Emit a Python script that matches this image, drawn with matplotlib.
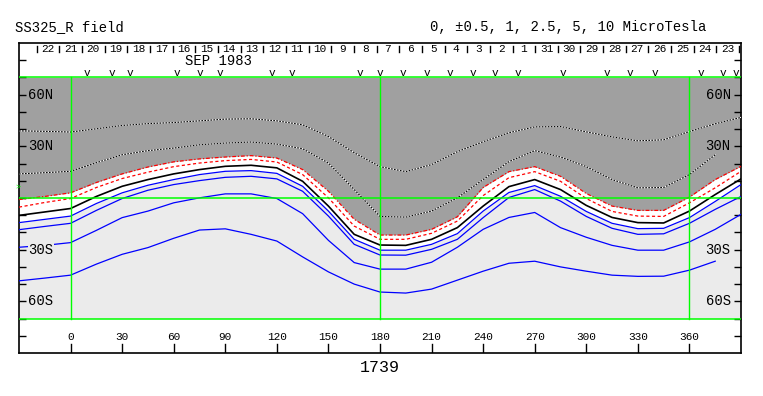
#!/usr/bin/env python

import numpy as np
import matplotlib
matplotlib.use("Agg")
import matplotlib.pyplot as plt

# longitude samples of the contour lines (deg)
lons = [-30, -15, 0, 15, 30, 45, 60, 75, 90, 105, 120, 135, 150, 165, 180,
        195, 210, 225, 240, 255, 270, 285, 300, 315, 330, 345, 360, 375, 390]

# latitude of each contour line (deg)
pos_hi = [39.0, 38.7, 38.3, 40.2, 42.1, 43.2, 43.8, 44.8, 45.8, 46.0, 44.8, 42.5, 35.7, 26.3, 18.2,
          15.3, 19.4, 26.9, 32.7, 37.9, 41.3, 41.5, 38.4, 35.5, 33.2, 33.8, 38.6, 43.1, 46.8]
pos_mid = [14.0, 14.7, 15.5, 20.5, 25.1, 27.5, 29.0, 30.9, 31.9, 32.5, 31.3, 28.6, 20.3, 4.9, -10.7,
           -11.1, -7.6, 0.1, 10.7, 21.1, 27.5, 23.8, 18.2, 10.7, 5.9, 6.1, 13.6, 25.1, np.nan]
pos_one = [-0.9, 0.9, 3.0, 9.0, 14.0, 18.0, 21.0, 22.7, 23.8, 24.6, 23.2, 16.5, 3.9, -12.4, -21.5,
           -21.5, -18.2, -10.9, 6.1, 15.3, 18.2, 12.6, 2.6, -4.7, -7.2, -7.2, 0.5, 10.7, 18.4]
pos_half = [-5.3, -2.6, -0.3, 6.1, 11.3, 15.0, 18.2, 20.3, 21.7, 22.4, 20.9, 13.6, 0.1, -16.3, -24.0,
            -24.0, -20.5, -13.4, 1.4, 11.8, 15.3, 9.7, -0.3, -7.8, -10.5, -10.7, -2.8, 5.9, 15.5]
neutral = [-10.1, -8.1, -6.1, 0.9, 6.8, 10.7, 14.0, 16.5, 18.4, 19.0, 17.5, 9.7, -4.7, -21.1, -27.3,
           -27.5, -24.0, -17.2, -4.7, 6.6, 10.7, 4.9, -4.3, -11.3, -14.3, -14.5, -7.6, 2.0, 11.1]
neg_half = [-14.3, -12.4, -10.5, -3.2, 3.0, 7.4, 10.7, 13.6, 15.5, 15.9, 14.3, 6.8, -7.6, -24.0, -30.3,
            -30.3, -26.9, -20.7, -7.6, 3.2, 7.2, 1.0, -7.8, -14.7, -17.8, -17.6, -11.4, -2.0, 7.8]
neg_one = [-18.4, -16.5, -14.7, -7.2, -0.3, 4.5, 7.8, 10.1, 12.0, 12.6, 11.1, 3.9, -10.5, -26.9, -33.1,
           -33.2, -29.8, -24.0, -11.4, 0.3, 4.9, -1.8, -10.7, -17.6, -21.1, -20.8, -14.7, -6.6, 0.9]
neg_mid = [-28.6, -27.5, -25.9, -18.8, -11.4, -7.6, -2.8, 0.1, 2.4, 2.4, -0.3, -9.1, -24.6, -37.5, -41.3,
           -41.3, -37.3, -28.6, -18.2, -11.3, -8.4, -17.2, -22.8, -27.5, -30.3, -30.3, -25.5, -18.2, -9.5]
neg_hi = [-48.1, -46.5, -44.8, -38.4, -32.7, -28.8, -23.4, -18.6, -17.9, -21.1, -25.0, -34.2, -42.9, -50.0, -54.6,
          -55.2, -52.9, -47.7, -42.5, -37.9, -36.7, -40.0, -42.5, -44.8, -45.5, -45.4, -41.9, -36.7, np.nan]

# days along the top (right = earlier)
day_labels = ["22", "21", "20", "19", "18", "17", "16", "15", "14", "13", "12", "11", "10", "9", "8",
              "7", "6", "5", "4", "3", "2", "1", "31", "30", "29", "28", "27", "26", "25", "24", "23"]
day0_lon = -19.7
day_step = 13.18

# observation marks "v" (longitude)
obs_lons = [9.3, 24.2, 34.4, 61.6, 75.1, 87.1, 117.2, 128.7, 168.4, 180.0, 193.6, 207.1, 220.7,
            234.2, 246.8, 260.3, 286.5, 312.2, 325.2, 339.7, 366.8, 379.4, 387.2]

lon_ticks = [0, 30, 60, 90, 120, 150, 180, 210, 240, 270, 300, 330, 360]
lat_labels = {60: "60N", 30: "30N", -30: "30S", -60: "60S"}

dark = "#a0a0a0"
light = "#ebebeb"
green = "#00ff00"
mono = "Liberation Mono"

fig = plt.figure(figsize=(7.63, 3.96), dpi=100)
ax = fig.add_axes([19/763, 43/396, 722/763, 310/396])
ax.set_xlim(-30, 390)
ax.set_ylim(-90, 90)

lo = np.array(lons)
ax.fill_between(lo, -70, 70, color=light, lw=0, zorder=0)
ax.fill_between(lo, np.array(pos_one), 70, color=dark, lw=0, zorder=1)
ax.fill_between(lo, np.array(neg_half), np.array(pos_one), color="white", lw=0, zorder=1)

# positive field lines (dotted black/white)
for d in [pos_hi, pos_mid]:
    ax.plot(lo, d, color="white", lw=0.8, zorder=3)
    ax.plot(lo, d, color="black", lw=0.8, ls=(0, (1.5, 1.2)), zorder=3)
ax.plot(lo, pos_one, color="red", lw=0.9, ls=(0, (3, 1.5, 1, 1.5)), zorder=3)
ax.plot(lo, pos_half, color="red", lw=0.9, ls=(0, (2.5, 2)), zorder=3)
ax.plot(lo, neutral, color="black", lw=1.2, zorder=4)
for d in [neg_half, neg_one, neg_mid, neg_hi]:
    ax.plot(lo, d, color="blue", lw=0.9, zorder=3)

# green grid
for la in [70, 0, -70]:
    ax.plot([-30, 390], [la, la], color=green, lw=1.1, zorder=5)
for ln in [0, 180, 360]:
    ax.plot([ln, ln], [-70, 70], color=green, lw=1.0, zorder=5)

# latitude labels inside the box
for la, s in lat_labels.items():
    bg = dark if la > 0 else light
    ax.text(-24.5, la, s, family=mono, fontsize=10, ha="left", va="center",
            bbox=dict(facecolor=bg, edgecolor="none", pad=0), zorder=6)
    ax.text(384, la, s, family=mono, fontsize=10, ha="right", va="center",
            bbox=dict(facecolor=bg, edgecolor="none", pad=0), zorder=6)

ax.set_yticks(range(-80, 81, 10))
ax.tick_params(axis="y", direction="in", length=5, width=1, left=True, right=True,
               labelleft=False, labelright=False)
ax.set_xticks([])
for sp in ax.spines.values():
    sp.set_linewidth(1.2)

# longitude ticks and labels at the bottom
for ln in lon_ticks:
    ax.plot([ln, ln], [-90, -84.5], color="black", lw=1.0, zorder=6)
    ax.text(ln, -80.8, str(ln), family=mono, fontsize=8, ha="center", va="center")
ax.text(180, -98.5, "1739", family=mono, fontsize=12, ha="center", va="center", clip_on=False)

# day marks along the top
for i in range(len(day_labels) + 1):
    x = day0_lon + i * day_step
    ax.plot([x, x], [88.2, 84.8], color="black", lw=1.0, zorder=6, clip_on=False)
for i, s in enumerate(day_labels):
    x = day0_lon + (i + 0.5) * day_step
    ax.text(x, 86.3, s, family=mono, fontsize=8, ha="center", va="center")
ax.text(86, 79.5, "SEP 1983", family=mono, fontsize=10, ha="center", va="center")
for ln in obs_lons:
    ax.text(ln, 70.8, "v", family=mono, fontsize=8, ha="center", va="baseline", clip_on=True)

# earth latitude marker
ax.text(-30.8, 6.4, ">", color=green, family=mono, fontsize=6, ha="center", va="center", clip_on=False)

fig.text(15/763, 1 - 27/396, "SS325_R field", family=mono, fontsize=10, ha="left", va="center")
fig.text(430/763, 1 - 27/396, "0, \u00b10.5, 1, 2.5, 5, 10 MicroTesla", family=mono, fontsize=10,
         ha="left", va="center")

fig.savefig("out.png", dpi=100)
